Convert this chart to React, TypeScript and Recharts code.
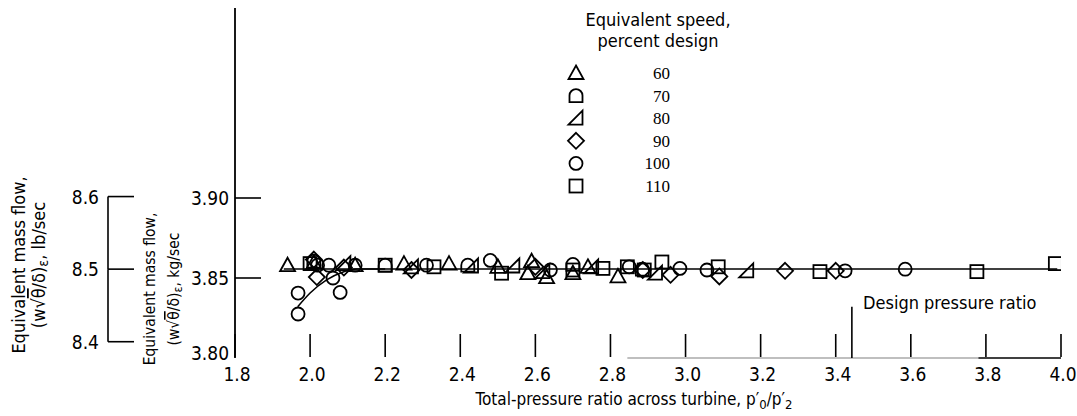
import React from 'react';
import { ComposedChart, Scatter, Line, XAxis, YAxis, ReferenceLine } from 'recharts';

// page size and plot frame
const W = 1077;
const H = 416;
const X_AXIS_H = 30;
const MARGIN = { top: 8, right: 16, bottom: 58 - X_AXIS_H, left: 0 };
const PLOT_H = H - MARGIN.top - MARGIN.bottom - X_AXIS_H;

const KG_DOMAIN: [number, number] = [3.8, 4.01875];
const LB_PER_KG = 2.20462;
const LB_DOMAIN: [number, number] = [KG_DOMAIN[0] * LB_PER_KG, KG_DOMAIN[1] * LB_PER_KG];

const xTicks = [1.8, 2.0, 2.2, 2.4, 2.6, 2.8, 3.0, 3.2, 3.4, 3.6, 3.8, 4.0];
const kgTicks = [3.8, 3.85, 3.9];
const lbTicks = [8.4, 8.5, 8.6];
const designRatio = 3.443;

// equivalent speed, percent design
const speed60 = [
  { p: 1.94, v: 3.858 }, { p: 2.01, v: 3.8595 }, { p: 2.12, v: 3.858 }, { p: 2.25, v: 3.859 },
  { p: 2.37, v: 3.859 }, { p: 2.5, v: 3.857 }, { p: 2.59, v: 3.8605 }, { p: 2.58, v: 3.853 },
  { p: 2.63, v: 3.8505 }, { p: 2.7, v: 3.853 }, { p: 2.74, v: 3.857 }, { p: 2.82, v: 3.851 },
];
const speed70 = [
  { p: 2.01, v: 3.8605 }, { p: 2.2, v: 3.858 }, { p: 2.42, v: 3.858 }, { p: 2.7, v: 3.8585 },
  { p: 2.885, v: 3.8555 },
];
const speed80 = [
  { p: 2.09, v: 3.859 }, { p: 2.27, v: 3.857 }, { p: 2.43, v: 3.8575 }, { p: 2.54, v: 3.8575 },
  { p: 2.62, v: 3.854 }, { p: 2.75, v: 3.857 }, { p: 2.92, v: 3.853 }, { p: 3.163, v: 3.8545 },
];
const speed90 = [
  { p: 2.018, v: 3.8506 }, { p: 2.01, v: 3.8615 }, { p: 2.09, v: 3.8565 }, { p: 2.27, v: 3.855 },
  { p: 2.6, v: 3.857 }, { p: 2.886, v: 3.855 }, { p: 2.96, v: 3.852 }, { p: 3.09, v: 3.851 },
  { p: 3.265, v: 3.8545 }, { p: 3.4, v: 3.8545 },
];
const speed100 = [
  { p: 1.968, v: 3.8275 }, { p: 1.968, v: 3.8406 }, { p: 2.061, v: 3.85 }, { p: 2.08, v: 3.841 },
  { p: 2.05, v: 3.858 }, { p: 2.02, v: 3.858 }, { p: 2.12, v: 3.858 }, { p: 2.31, v: 3.858 },
  { p: 2.48, v: 3.861 }, { p: 2.64, v: 3.855 }, { p: 2.85, v: 3.857 }, { p: 2.985, v: 3.856 },
  { p: 3.057, v: 3.855 }, { p: 3.425, v: 3.8545 }, { p: 3.585, v: 3.8555 },
];
const speed110 = [
  { p: 2.0, v: 3.859 }, { p: 2.2, v: 3.858 }, { p: 2.33, v: 3.857 }, { p: 2.51, v: 3.853 },
  { p: 2.7, v: 3.855 }, { p: 2.78, v: 3.856 }, { p: 2.845, v: 3.857 }, { p: 2.89, v: 3.855 },
  { p: 2.937, v: 3.86 }, { p: 3.087, v: 3.857 }, { p: 3.358, v: 3.854 }, { p: 3.776, v: 3.854 },
  { p: 3.985, v: 3.859 },
];

// faired curves
const lowCurve = [
  { p: 1.967, v: 3.832 }, { p: 2.0, v: 3.8406 }, { p: 2.044, v: 3.8488 },
  { p: 2.088, v: 3.8538 }, { p: 2.125, v: 3.8556 }, { p: 2.2, v: 3.8556 },
];
const mainCurve = [{ p: 1.93, v: 3.8556 }, { p: 3.99, v: 3.8556 }];

const legendRows = [
  { kind: 'tri', label: '60' },
  { kind: 'dee', label: '70' },
  { kind: 'rtri', label: '80' },
  { kind: 'dia', label: '90' },
  { kind: 'circ', label: '100' },
  { kind: 'sq', label: '110' },
];

const FONT = "'DejaVu Sans Condensed', 'Liberation Sans Narrow', 'DejaVu Sans', sans-serif";

const Mark = ({ kind, cx, cy }: { kind: string; cx: number; cy: number }) => {
  const s = 6.5;
  const st = { fill: 'none', stroke: '#000', strokeWidth: 1.8 };
  if (cx == null || cy == null) return null;
  switch (kind) {
    case 'tri':
      return <path d={`M${cx},${cy - s - 1} L${cx + s + 1},${cy + s - 0.5} L${cx - s - 1},${cy + s - 0.5} Z`} {...st} />;
    case 'dee':
      return <path d={`M${cx - s},${cy + s} L${cx + s},${cy + s} L${cx + s},${cy} A${s},${s} 0 0 0 ${cx - s},${cy} Z`} {...st} />;
    case 'rtri':
      return <path d={`M${cx - s - 1},${cy + s} L${cx + s},${cy + s} L${cx + s},${cy - s - 1} Z`} {...st} />;
    case 'dia':
      return <path d={`M${cx},${cy - s - 1.5} L${cx + s + 1.5},${cy} L${cx},${cy + s + 1.5} L${cx - s - 1.5},${cy} Z`} {...st} />;
    case 'circ':
      return <circle cx={cx} cy={cy} r={s} {...st} />;
    default:
      return <rect x={cx - s} y={cy - s} width={2 * s} height={2 * s} {...st} />;
  }
};

const XTick = (props: any) => {
  const { x, y, payload } = props;
  return (
    <g>
      <line x1={x} x2={x} y1={y - 24} y2={y - 1} stroke="#000" strokeWidth={1.6} />
      <text x={x + 2} y={y + 23} textAnchor="middle" fontSize={19} fontFamily={FONT} fill="#000">
        {payload.value.toFixed(1)}
      </text>
    </g>
  );
};

const KgTick = (props: any) => {
  const { x, y, payload } = props;
  const bottom = payload.value === kgTicks[0];
  return (
    <g>
      {!bottom && <line x1={x} x2={x + 26} y1={y} y2={y} stroke="#000" strokeWidth={1.6} />}
      <text x={x - 6} y={y + (bottom ? 2 : 7)} textAnchor="end" fontSize={19} fontFamily={FONT} fill="#000">
        {payload.value.toFixed(2)}
      </text>
    </g>
  );
};

const LbTick = (props: any) => {
  const { x, y, payload, index } = props;
  const step = (PLOT_H * 0.1) / (LB_DOMAIN[1] - LB_DOMAIN[0]);
  return (
    <g>
      <line x1={x} x2={x + 26} y1={y} y2={y} stroke="#000" strokeWidth={1.6} />
      {index < lbTicks.length - 1 && <line x1={x} x2={x} y1={y} y2={y - step} stroke="#000" strokeWidth={1.6} />}
      <text x={x - 9} y={y + 7} textAnchor="end" fontSize={19} fontFamily={FONT} fill="#000">
        {payload.value.toFixed(1)}
      </text>
    </g>
  );
};

const series = [
  { name: '60', kind: 'tri', data: speed60 },
  { name: '70', kind: 'dee', data: speed70 },
  { name: '80', kind: 'rtri', data: speed80 },
  { name: '90', kind: 'dia', data: speed90 },
  { name: '100', kind: 'circ', data: speed100 },
  { name: '110', kind: 'sq', data: speed110 },
];

const FlowLabel = ({ x1, x2, cy, size, unit, anchor }: any) => (
  <>
    <text transform={`translate(${x1},${cy}) rotate(-90)`} textAnchor={anchor} fontSize={size} fontFamily={FONT}>
      Equivalent mass flow,
    </text>
    <text transform={`translate(${x2},${cy}) rotate(-90)`} textAnchor={anchor} fontSize={size} fontFamily={FONT}>
      (w√<tspan textDecoration="overline">θ</tspan>/δ)<tspan fontSize={size * 0.8} dy={3}>ε</tspan>
      <tspan dy={-3}>,  {unit}</tspan>
    </text>
  </>
);

export default function App() {
  return (
    <div style={{ position: 'absolute', left: 0, top: 0, width: W, height: H, background: '#fff' }}>
      <ComposedChart width={W} height={H} margin={MARGIN}>
        <XAxis
          dataKey="p"
          type="number"
          domain={[1.8, 4.0]}
          ticks={xTicks}
          height={X_AXIS_H}
          axisLine={false}
          tickLine={false}
          tickSize={0}
          tickMargin={0}
          tick={<XTick />}
          interval={0}
          allowDataOverflow
        />
        <YAxis
          yAxisId="kg"
          dataKey="v"
          type="number"
          domain={KG_DOMAIN}
          ticks={kgTicks}
          width={127}
          axisLine={{ stroke: '#000', strokeWidth: 1.8 }}
          tickLine={false}
          tickSize={0}
          tickMargin={0}
          tick={<KgTick />}
          interval={0}
          allowDataOverflow
        />
        <YAxis
          yAxisId="lb"
          type="number"
          domain={LB_DOMAIN}
          ticks={lbTicks}
          width={108}
          axisLine={false}
          tickLine={false}
          tickSize={0}
          tickMargin={0}
          tick={<LbTick />}
          interval={0}
          allowDataOverflow
        />
        <ReferenceLine yAxisId="kg" segment={[{ x: 2.845, y: 3.8 }, { x: 3.78, y: 3.8 }]} stroke="#aaa" strokeWidth={1.5} />
        <ReferenceLine yAxisId="kg" segment={[{ x: 3.78, y: 3.8 }, { x: 4.0, y: 3.8 }]} stroke="#000" strokeWidth={1.6} />
        <ReferenceLine yAxisId="kg" segment={[{ x: designRatio, y: 3.8 }, { x: designRatio, y: 3.832 }]} stroke="#000" strokeWidth={1.6} />
        <Line yAxisId="kg" data={mainCurve} dataKey="v" type="linear" stroke="#000" strokeWidth={1.6} dot={false} isAnimationActive={false} />
        <Line yAxisId="kg" data={lowCurve} dataKey="v" type="monotone" stroke="#000" strokeWidth={1.6} dot={false} isAnimationActive={false} />
        {series.map((s) => (
          <Scatter
            key={s.name}
            yAxisId="kg"
            data={s.data}
            dataKey="v"
            isAnimationActive={false}
            shape={(pr: any) => <Mark kind={s.kind} cx={pr.cx} cy={pr.cy} />}
          />
        ))}
      </ComposedChart>
      <svg width={W} height={H} style={{ position: 'absolute', left: 0, top: 0, pointerEvents: 'none' }}>
        <text x={658} y={26} textAnchor="middle" fontSize={18} fontFamily={FONT}>Equivalent speed,</text>
        <text x={658} y={47} textAnchor="middle" fontSize={18} fontFamily={FONT}>percent design</text>
        {legendRows.map((r, i) => (
          <g key={r.label}>
            <Mark kind={r.kind} cx={576} cy={73 + i * 22.6} />
            <text x={670} y={79 + i * 22.6} textAnchor="end" fontSize={17} fontFamily="'Liberation Serif', serif">
              {r.label}
            </text>
          </g>
        ))}
        <text x={863} y={309} fontSize={18} fontFamily={FONT}>Design pressure ratio</text>
        <text x={634} y={405} textAnchor="middle" fontSize={17} fontFamily={FONT}>
          Total-pressure ratio across turbine,  p′<tspan fontSize={13} dy={4}>0</tspan>
          <tspan dy={-4}>/p′</tspan><tspan fontSize={13} dy={4}>2</tspan>
        </text>
        <FlowLabel x1={25} x2={45} cy={265} size={18} unit="lb/sec" anchor="middle" />
        <FlowLabel x1={155} x2={179} cy={289} size={15.5} unit="kg/sec" anchor="middle" />
      </svg>
    </div>
  );
}
